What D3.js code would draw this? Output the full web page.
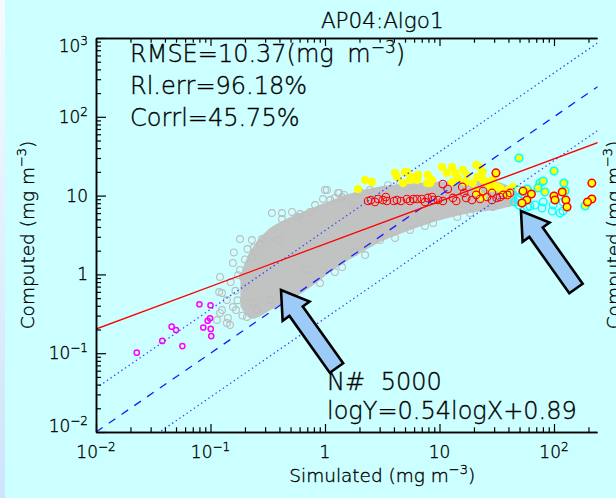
<!DOCTYPE html>
<html>
<head>
<meta charset="utf-8">
<title>AP04:Algo1</title>
<script src="https://d3js.org/d3.v7.min.js"></script>
<style>
  body { margin: 0; background: #ccffff; }
  text { font-family: "DejaVu Sans", sans-serif; fill: #000; font-weight: 200; stroke: #000; stroke-width: 0.35; }
  .axis path, .axis line { stroke: #000; }
  .axis path { stroke-width: 1.5; }
  .axis line { stroke-width: 1.2; }
</style>
</head>
<body>
<script>
// ---- values ----
var xTicks = [0.01, 0.1, 1, 10, 100, 1000];
var yTicks = [0.01, 0.1, 1, 10, 100, 1000];
var tickBase = ["10", "10", "1", "10", "10", "10"];
var tickSup  = ["\u22122", "\u22121", "", "", "2", "3"];

// dense core of the grey cloud (upper / lower envelope)
var bandX  = [0.19, 0.23, 0.331, 0.495, 0.740, 1.11, 1.65, 3.02, 5.52, 10.1, 18.5, 33.8, 45.6];
var bandHi = [0.95, 1.9, 3.6, 5.0, 6.4, 8.1, 10.0, 12.3, 13.4, 14.2, 14.7, 13.8, 11.1];
var bandLo = [0.40, 0.29, 0.374, 0.501, 0.733, 1.14, 1.66, 2.73, 3.88, 5.20, 6.38, 7.17, 8.05];

// loose grey points round the core
var greyPts = [[0.121,0.93],[0.126,0.581],[0.181,2.81],[0.230,2.73],[0.282,2.81],[0.271,2.43],[0.157,1.40],
  [0.230,1.66],[0.344,6.01],[0.421,6.01],[0.421,5.05],[0.515,6.20],[0.389,2.73],[1.04,11.8],[1.30,10.8],
  [1.47,10.2],[0.96,9.06],[0.581,5.35],[0.181,1.14],[0.192,0.93],[0.119,0.598],[0.139,0.473],[0.126,0.353],
  [0.142,0.280],[0.148,0.228],[0.114,0.264],[0.167,0.353],[0.174,0.98],[0.157,0.386],[0.208,0.288],
  [0.139,0.242],[0.121,0.324],[0.255,0.353],[0.331,0.473],[0.235,0.434],[1.0,11.8],[1.33,10.8],[1.11,8.79],
  [1.41,9.6],[3.55,13.6],[4.52,14.4],[5.87,13.6],[0.697,1.14],[1.41,1.24],[1.83,1.92],[3.02,2.73],
  [5.52,3.66],[8.8,4.49],[14.3,5.35],[29.2,7.17],[39.1,8.05],[1.72,7.6],[0.74,6.2],[0.605,5.84],
  [0.818,7.60],[1.22,9.33],[2.02,11.1],[2.47,11.8],[0.495,0.473],[0.904,0.778],[1.22,1.07],[2.24,1.76],
  [4.09,2.90],[7.47,4.11],[18.5,6.01],[0.165,0.62],[0.15,0.80],[0.172,0.47],[0.19,0.30],[0.16,1.9],
  [0.2,1.55],[0.2,0.7],[0.24,2.2],[0.21,2.1]];

var magentaPts = [[0.0227,0.1015],[0.0379,0.143],[0.0458,0.217],[0.050,0.197],[0.0568,0.123],[0.080,0.418],
  [0.100,0.405],[0.0865,0.212],[0.1005,0.203],[0.1015,0.165],[0.0945,0.258],[0.099,0.277]];

var yellowPts = [[1.94,12.1],[2.24,15.8],[2.57,14.9],[4.09,19.4],[4.25,17.2],[4.8,14.4],[5.2,19.9],[5.52,15.8],
  [5.9,17.2],[6.5,18.3],[7.8,14.4],[7.9,18.3],[8.6,15.8],[10.5,23.1],[12.9,23.1],[11.6,19.4],[13.7,19.4],
  [14.5,16.7],[12.9,14.9],[16.0,21.1],[17.4,18.3],[16.7,14.9],[20.9,24.5],[22.6,23.1],[23.7,19.9],[21.3,17.2],
  [19.5,14.4],[24.0,15.8],[26.5,13.6],[29.2,15.8],[33.8,12.5],[36.0,11.1],[39.9,11.8],[44.0,12.9],[39.1,10.2],
  [23.7,9.6],[21.3,11.1],[8.26,14.4],[6.36,15.8],[5.0,19.9],[28.7,12.5],[31.6,12.9],[26.0,14.9]];

var redPts = [[2.38,8.54],[2.52,8.79],[2.73,8.29],[2.91,9.06],[3.2,8.79],[3.40,9.60],[3.47,8.54],[4.0,8.54],
  [4.25,8.79],[4.6,8.54],[5.2,9.06],[5.52,8.54],[5.9,9.06],[6.36,9.06],[7.0,9.06],[7.47,8.29],[7.9,9.33],
  [8.6,9.60],[8.8,8.79],[9.7,8.79],[10.7,14.0],[10.7,8.54],[11.8,12.1],[13.1,9.33],[14.0,8.54],[15.8,12.9],
  [16.4,10.8],[17.1,9.33],[19.2,8.79],[20.9,10.2],[22.6,9.06],[24.0,11.4],[26.0,9.60],[28.7,10.8],[28.7,8.79],
  [31.6,9.33],[33.8,9.60],[36.0,10.2],[39.1,10.2],[41.3,10.8]];

var cyanPts = [[48.6,11.8],[48.6,8.79],[45.6,8.29],[49.5,7.6],[58.3,7.17],[61.7,7.38],[68.2,7.6],[80.5,8.29],
  [98.5,7.6],[96.6,6.38],[113,6.01],[120,6.38],[78.7,6.96],[120,8.29],[48.6,9.33],[52.5,10.5]];

var cyanYellowPts = [[49.5,30.0],[100,20.5],[75.4,14.4],[80.5,15.3],[83.4,11.1],[72.5,12.5],[187,7.38],
  [122,14.4],[125,11.4],[58.3,12.1]];

var redYellowPts = [[31.1,19.4],[53.6,11.4],[63.5,10.5],[58.0,8.79],[52.5,8.05],[100,9.89],[102,8.79],
  [118,11.1],[127,8.79],[130,7.17],[214,14.4],[214,9.06],[196,8.29]];

// fit ln(Y) = 0.54 ln(X) + 0.89, and the 1:1 line with its x3.6 bounds
var fitSlope = 0.54, fitIntercept = 0.89;
var ratioBand = 3.6;

// the two call-out arrows (tip and tail, data units)
var arrowTip  = [[0.413, 0.634], [51.5, 6.38]];
var arrowTail = [[1.26, 0.0649], [155.6, 0.662]];

var statLines = ["Rl.err=96.18%", "Corrl=45.75%"];
var countLine = "N# 5000";
var fitLine = "logY=0.54logX+0.89";

// ---- layout ----
var W = 616, H = 498;
var box = { left: 96, right: 668.5, top: 38, bottom: 432, crop: 597.5 };

var svg = d3.select("body").append("svg").attr("width", W).attr("height", H);
var defs = svg.append("defs");

var grad = defs.append("linearGradient").attr("id", "edge")
  .attr("x1", 0).attr("y1", 0).attr("x2", 0).attr("y2", 1);
grad.append("stop").attr("offset", "0%").attr("stop-color", "#f4fbff");
grad.append("stop").attr("offset", "100%").attr("stop-color", "#cde4fb");

defs.append("clipPath").attr("id", "plotclip").append("rect")
  .attr("x", box.left).attr("y", box.top).attr("width", box.crop - box.left).attr("height", box.bottom - box.top);
defs.append("clipPath").attr("id", "axisclip").append("rect")
  .attr("x", 0).attr("y", -1000).attr("width", box.crop).attr("height", 3000);

svg.append("rect").attr("width", W).attr("height", H).attr("fill", "#ccffff");
svg.append("rect").attr("width", 5).attr("height", H).attr("fill", "url(#edge)");

var x = d3.scaleLog().domain([0.01, 1000]).range([box.left, box.right]);
var y = d3.scaleLog().domain([0.01, 1000]).range([box.bottom, box.top]);

// ---- marks ----
var g = svg.append("g").attr("clip-path", "url(#plotclip)");

var band = d3.area()
  .x(function(d, i) { return x(bandX[i]); })
  .y0(function(d, i) { return y(bandLo[i]); })
  .y1(function(d, i) { return y(bandHi[i]); })
  .curve(d3.curveCatmullRom);
g.append("path").datum(bandX).attr("d", band)
  .attr("fill", "#c1c3c3").attr("stroke", "#c1c3c3").attr("stroke-width", 4)
  .attr("stroke-linejoin", "round");

function dots(pts, r, fill, stroke, sw) {
  g.append("g").selectAll("circle").data(pts).enter().append("circle")
    .attr("cx", function(d) { return x(d[0]); })
    .attr("cy", function(d) { return y(d[1]); })
    .attr("r", r)
    .attr("fill", fill).attr("stroke", stroke).attr("stroke-width", sw);
}
dots(greyPts, 3.4, "none", "#bdbdbd", 1.1);
dots(magentaPts, 2.6, "none", "#ff00ff", 1.5);
dots(yellowPts, 3.8, "#ffff00", "#ffff00", 0.8);
dots(redPts, 3.8, "none", "#ff0000", 1.1);
dots(cyanPts, 3.8, "none", "#00ffff", 1.3);
dots(cyanYellowPts, 3.8, "#ffff00", "#00ffff", 1.6);
dots(redYellowPts, 3.8, "#ffff00", "#ff0000", 1.5);

var ends = [0.01, 1000];
function refLine(k, color, dash) {
  g.append("line")
    .attr("x1", x(ends[0])).attr("y1", y(ends[0] * k))
    .attr("x2", x(ends[1])).attr("y2", y(ends[1] * k))
    .attr("stroke", color).attr("stroke-width", 1.3).attr("stroke-dasharray", dash);
}
refLine(ratioBand, "#3c3cff", "1.4,3");
refLine(1 / ratioBand, "#3c3cff", "1.4,3");
refLine(1, "#1a1aff", "8,7.5");

function fit(v) { return Math.exp(fitIntercept) * Math.pow(v, fitSlope); }
g.append("line")
  .attr("x1", x(ends[0])).attr("y1", y(fit(ends[0])))
  .attr("x2", x(ends[1])).attr("y2", y(fit(ends[1])))
  .attr("stroke", "#ff0000").attr("stroke-width", 1.3);

// arrows
arrowTip.forEach(function(t, i) {
  var tx = x(t[0]), ty = y(t[1]);
  var cx = x(arrowTail[i][0]), cy = y(arrowTail[i][1]);
  var L = Math.hypot(tx - cx, ty - cy);
  var ux = (tx - cx) / L, uy = (ty - cy) / L, nx = -uy, ny = ux;
  var headLen = 26, headW = 16.5, shaftW = 8.2;
  var bx = tx - ux * headLen, by = ty - uy * headLen;
  var p = [
    [cx + nx * shaftW, cy + ny * shaftW],
    [bx + nx * shaftW, by + ny * shaftW],
    [bx + nx * headW, by + ny * headW],
    [tx, ty],
    [bx - nx * headW, by - ny * headW],
    [bx - nx * shaftW, by - ny * shaftW],
    [cx - nx * shaftW, cy - ny * shaftW]
  ];
  svg.append("polygon").attr("points", p.map(function(q) { return q.join(","); }).join(" "))
    .attr("fill", "#9dcbf7").attr("stroke", "#000").attr("stroke-width", 2.6)
    .attr("stroke-linejoin", "miter");
});

// ---- axes ----
var minor = [];
xTicks.slice(0, -1).forEach(function(d) { for (var k = 2; k < 10; k++) minor.push(d * k); });

function axis(fn, tr, vals, size, clip) {
  var a = svg.append("g").attr("class", "axis").attr("transform", tr);
  if (clip) a.attr("clip-path", "url(#axisclip)");
  a.call(fn.tickValues(vals).tickSize(size).tickSizeOuter(0).tickFormat(""));
}
axis(d3.axisTop(x), "translate(0," + box.bottom + ")", minor, 4.7, true);
axis(d3.axisTop(x), "translate(0," + box.bottom + ")", xTicks, 8, true);
axis(d3.axisBottom(x), "translate(0," + box.top + ")", minor, 4.7, true);
axis(d3.axisBottom(x), "translate(0," + box.top + ")", xTicks, 8, true);
axis(d3.axisRight(y), "translate(" + box.left + ",0)", minor, 5, false);
axis(d3.axisRight(y), "translate(" + box.left + ",0)", yTicks, 10, false);

function power(sel, i, size, supSize, rise) {
  sel.append("tspan").text(tickBase[i]).attr("font-size", size);
  if (tickSup[i]) sel.append("tspan").text(tickSup[i]).attr("font-size", supSize).attr("dy", -rise);
}
xTicks.forEach(function(v, i) {
  if (x(v) > box.crop) return;
  var t = svg.append("text").attr("x", x(v)).attr("y", 458).attr("text-anchor", "middle");
  power(t, i, 17, 12, 7);
});
yTicks.forEach(function(v, i) {
  var cy = Math.max(box.top + 7.5, Math.min(box.bottom - 6.5, y(v)));
  var t = svg.append("text").attr("x", 88).attr("y", cy + 6).attr("text-anchor", "end");
  power(t, i, 17, 12, 7);
});

// ---- texts ----
function unitLabel(sel, lead, size, supSize, rise) {
  sel.append("tspan").text(lead + " (mg m").attr("font-size", size);
  sel.append("tspan").text("\u22123").attr("font-size", supSize).attr("dy", -rise);
  sel.append("tspan").text(")").attr("font-size", size).attr("dy", rise);
}
var mid = (box.left + box.right) / 2;
svg.append("text").attr("x", mid).attr("y", 28).attr("text-anchor", "middle")
  .attr("font-size", 21.5).text("AP04:Algo1");
unitLabel(svg.append("text").attr("x", mid).attr("y", 482).attr("text-anchor", "middle"),
  "Simulated", 18.5, 13, 8);
unitLabel(svg.append("text").attr("transform", "translate(34,235) rotate(-90)").attr("text-anchor", "middle"),
  "Computed", 18.5, 13, 8);
// y title of the neighbouring panel, cut by the picture's right edge as in the original
unitLabel(svg.append("text").attr("transform", "translate(620,235) rotate(-90)").attr("text-anchor", "middle"),
  "Computed", 18.5, 13, 8);

var rm = svg.append("text").attr("x", 130).attr("y", 62).attr("font-size", 24).attr("word-spacing", 6);
rm.append("tspan").text("RMSE=10.37(mg m");
rm.append("tspan").text("\u22123").attr("font-size", 17).attr("dy", -9);
rm.append("tspan").text(")").attr("dy", 9);
statLines.forEach(function(s, i) {
  svg.append("text").attr("x", 130).attr("y", 94 + i * 31.5).attr("font-size", 24).text(s);
});
svg.append("text").attr("x", 327).attr("y", 390).attr("font-size", 24).attr("word-spacing", 8).text(countLine);
svg.append("text").attr("x", 327).attr("y", 419).attr("font-size", 24).text(fitLine);
</script>
</body>
</html>
